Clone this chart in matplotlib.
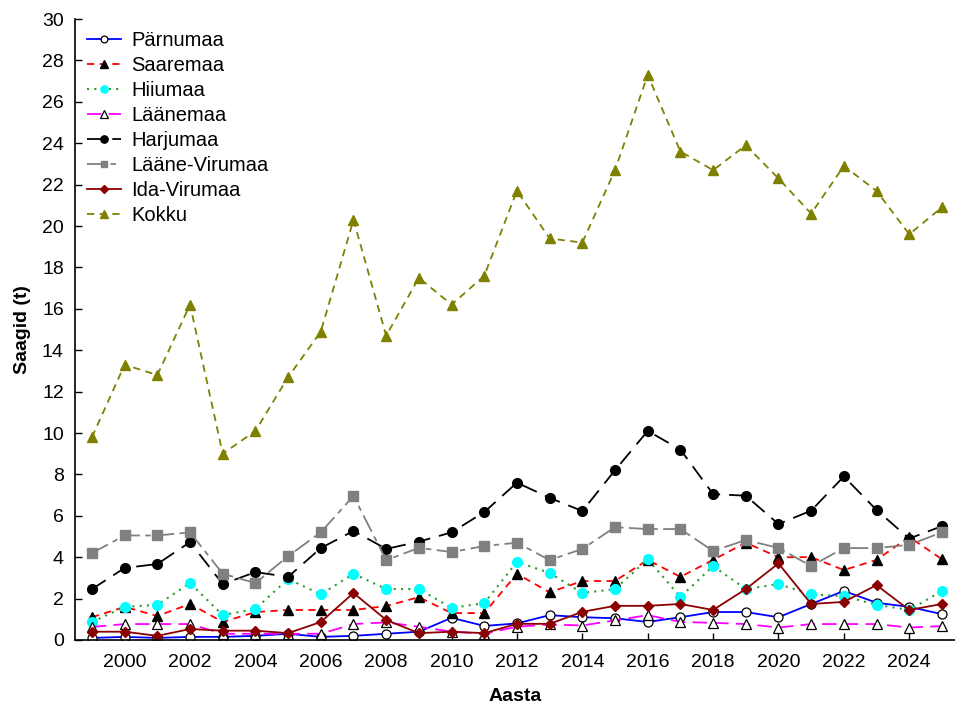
import matplotlib.pyplot as plt
import numpy as np

plt.rcParams['font.family'] = ['Liberation Sans', 'DejaVu Sans']

years = list(range(1999, 2026))

parnumaa = [0.1, 0.15, 0.1, 0.15, 0.15, 0.2, 0.3, 0.15, 0.2, 0.3, 0.4, 1.07, 0.68, 0.8, 1.2, 1.1, 1.05, 0.87,
            1.1, 1.35, 1.35, 1.1, 1.74, 2.37, 1.8, 1.6, 1.25]
saaremaa = [1.1, 1.6, 1.16, 1.74, 0.87, 1.35, 1.45, 1.45, 1.45, 1.64, 2.07, 1.3, 1.3, 3.2, 2.3, 2.85, 2.85, 3.87,
            3.05, 3.87, 4.7, 4.0, 4.0, 3.38, 3.87, 4.98, 3.9]
hiiumaa = [0.87, 1.6, 1.7, 2.75, 1.2, 1.5, 2.95, 2.2, 3.2, 2.46, 2.46, 1.55, 1.78, 3.77, 3.24, 2.27, 2.46, 3.9,
           2.08, 3.57, 2.46, 2.7, 2.2, 2.12, 1.7, 1.45, 2.37]
laanemaa = [0.63, 0.77, 0.77, 0.77, 0.3, 0.3, 0.3, 0.3, 0.77, 0.85, 0.64, 0.4, 0.3, 0.64, 0.75, 0.7, 0.95, 1.2,
            0.87, 0.83, 0.77, 0.6, 0.77, 0.77, 0.77, 0.6, 0.67]
harjumaa = [2.46, 3.48, 3.67, 4.73, 2.7, 3.28, 3.05, 4.44, 5.27, 4.4, 4.75, 5.2, 6.18, 7.6, 6.87, 6.23, 8.2, 10.1,
            9.2, 7.05, 6.97, 5.6, 6.25, 7.9, 6.28, 4.9, 5.5]
laane_virumaa = [4.2, 5.05, 5.05, 5.2, 3.2, 2.75, 4.05, 5.2, 6.96, 3.86, 4.45, 4.25, 4.54, 4.7, 3.86, 4.4, 5.45, 5.36,
                 5.36, 4.3, 4.83, 4.45, 3.57, 4.44, 4.44, 4.6, 5.2]
ida_virumaa = [0.4, 0.4, 0.2, 0.53, 0.45, 0.45, 0.33, 0.87, 2.27, 0.97, 0.33, 0.4, 0.33, 0.78, 0.78, 1.36, 1.65, 1.65,
               1.74, 1.45, 2.46, 3.7, 1.74, 1.84, 2.65, 1.45, 1.74]
kokku = [9.8, 13.3, 12.8, 16.2, 9.0, 10.1, 12.7, 14.9, 20.3, 14.7, 17.5, 16.2, 17.6, 21.7, 19.4, 19.2, 22.7, 27.3,
         23.6, 22.7, 23.9, 22.3, 20.6, 22.9, 21.7, 19.6, 20.9]

fig = plt.figure(figsize=(9.55, 7.06), dpi=100)
ax = fig.add_axes([0.0785, 0.0935, 0.9215, 0.8795])

ms = 7
ax.plot(years, parnumaa, color='blue', lw=1.3, ls='-', marker='o', ms=ms - 0.5,
        mfc='white', mec='black', mew=0.9, label='Pärnumaa')
ax.plot(years, saaremaa, color='red', lw=1.3, ls=(0, (4, 3)), marker='^', ms=ms,
        mfc='black', mec='black', label='Saaremaa')
ax.plot(years, hiiumaa, color='#2e9a2e', lw=1.5, ls=(0, (1, 2.5)), marker='o', ms=ms,
        mfc='cyan', mec='cyan', label='Hiiumaa')
ax.plot(years, laanemaa, color='magenta', lw=1.3, ls=(0, (8, 4)), marker='^', ms=ms,
        mfc='white', mec='black', mew=0.9, label='Läänemaa')
ax.plot(years, harjumaa, color='black', lw=1.3, ls=(0, (9, 5)), marker='o', ms=ms,
        mfc='black', mec='black', label='Harjumaa')
ax.plot(years, laane_virumaa, color='gray', lw=1.3, ls=(0, (10, 3, 3, 3)), marker='s', ms=ms - 0.5,
        mfc='gray', mec='gray', label='Lääne-Virumaa')
ax.plot(years, ida_virumaa, color='#8b0000', lw=1.3, ls='-', marker='D', ms=ms - 1.8,
        mfc='#8b0000', mec='#8b0000', label='Ida-Virumaa')
ax.plot(years, kokku, color='#808000', lw=1.3, ls=(0, (4, 3)), marker='^', ms=ms,
        mfc='#808000', mec='#808000', label='Kokku')

ax.set_xlim(1998.48, 2025.4)
ax.set_ylim(0, 30)
ax.set_xticks(np.arange(2000, 2025, 2))
ax.set_yticks(np.arange(0, 31, 2))
ax.tick_params(direction='in', length=5, labelsize=14, width=1)
ax.tick_params(axis='x', pad=10)
ax.tick_params(axis='y', pad=8)
ax.spines['top'].set_visible(False)
ax.spines['right'].set_visible(False)
ax.spines['left'].set_linewidth(1.2)
ax.spines['bottom'].set_linewidth(1.2)

ax.set_xlabel('Aasta', fontsize=14, fontweight='bold', labelpad=12)
ax.set_ylabel('Saagid (t)', fontsize=14, fontweight='bold', labelpad=8)

ax.legend(loc='upper left', frameon=False, fontsize=14.5, handlelength=1.7,
          labelspacing=0.3, borderaxespad=0.2, handletextpad=0.5, markerscale=0.75,
          bbox_to_anchor=(0.0, 1.0))

fig.savefig('out.png', dpi=100)
